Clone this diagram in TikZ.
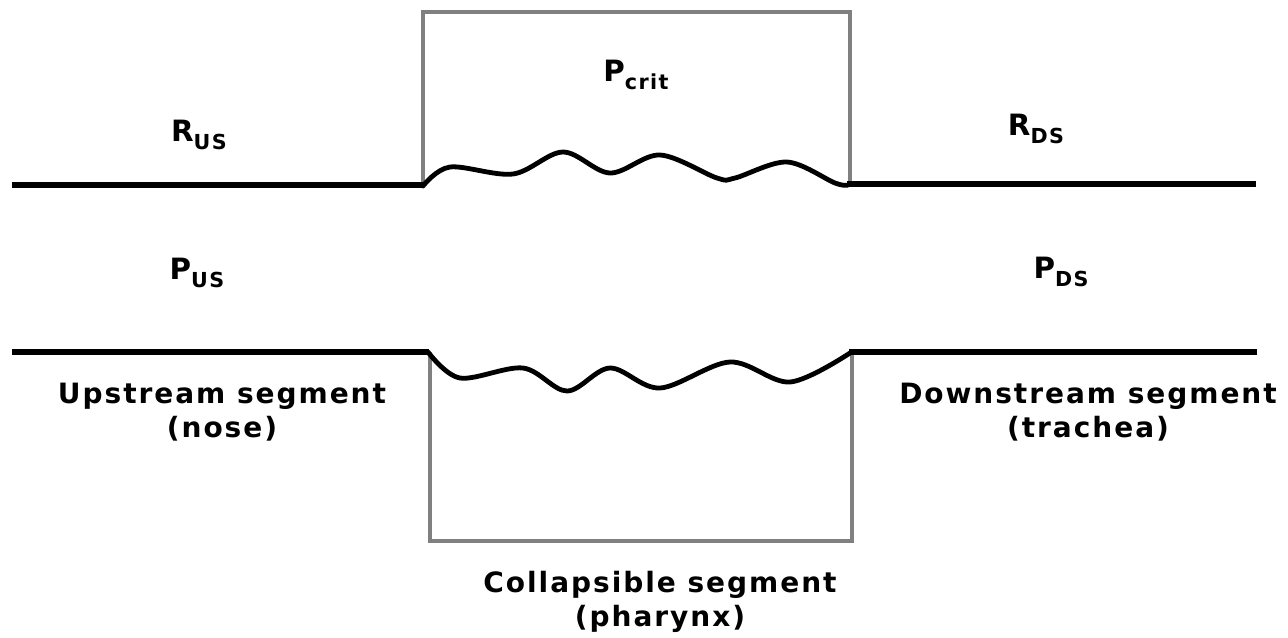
\documentclass[tikz,border=0pt]{standalone}
\usepackage{fontspec}
\setmainfont{DejaVu Sans}
\newfontfamily\lblfont[LetterSpace=7]{DejaVu Sans}
\begin{document}
\begin{tikzpicture}[x=0.75pt,y=-0.75pt,
  wall/.style={line width=5pt,black},
  wavy/.style={line width=3.6pt,black,line join=round,line cap=round},
  box/.style={line width=2.8pt,color={rgb,255:red,128;green,128;blue,128}},
  lbl/.style={font=\lblfont\fontsize{21}{25.5}\selectfont\bfseries,inner sep=0pt,align=center},
  sym/.style={font=\lblfont\fontsize{22}{25}\selectfont\bfseries,inner sep=0pt}]
\newcommand{\lowsub}[1]{\raisebox{-0.3em}{\fontsize{15.5}{16}\selectfont #1}}
\useasboundingbox (0,0) rectangle (1288,637);
\fill[white] (0,0) rectangle (1288,637);
% boxes
\draw[box] (423,185) -- (423,12) -- (850,12) -- (850,185);
\draw[box] (430,352) -- (430,541) -- (852,541) -- (852,352);
% straight walls
\draw[wall] (12,185) -- (424,185);
\draw[wall] (847,184) -- (1256,184);
\draw[wall] (12,352) -- (429,352);
\draw[wall] (849,352) -- (1257,352);
% wavy walls
\draw[wavy] plot[smooth,tension=0.55] coordinates {(423,186) (450,167) (513,174) (563,152) (610,173) (660,155) (717,178) (735,178) (787,162) (835,183) (848,185)};
\draw[wavy] plot[smooth,tension=0.55] coordinates {(428,352) (460,378) (523,368) (567,391) (610,368) (660,388) (730,362) (790,382) (850,353)};
% labels
\node[sym] (rus) at (199,135) {R\lowsub{US}};
\node[sym] (pcrit) at (636,75) {P\lowsub{crit}};
\node[sym] (rds) at (1036,129) {R\lowsub{DS}};
\node[sym] (pus) at (197,273) {P\lowsub{US}};
\node[sym] (pds) at (1061,272) {P\lowsub{DS}};
\node[lbl] (up) at (222,412) {Upstream segment\\(nose)};
\node[lbl] (down) at (1088,412) {Downstream segment\\(trachea)};
\node[lbl] (col) at (660,602) {Collapsible segment\\(pharynx)};
\end{tikzpicture}
\end{document}
